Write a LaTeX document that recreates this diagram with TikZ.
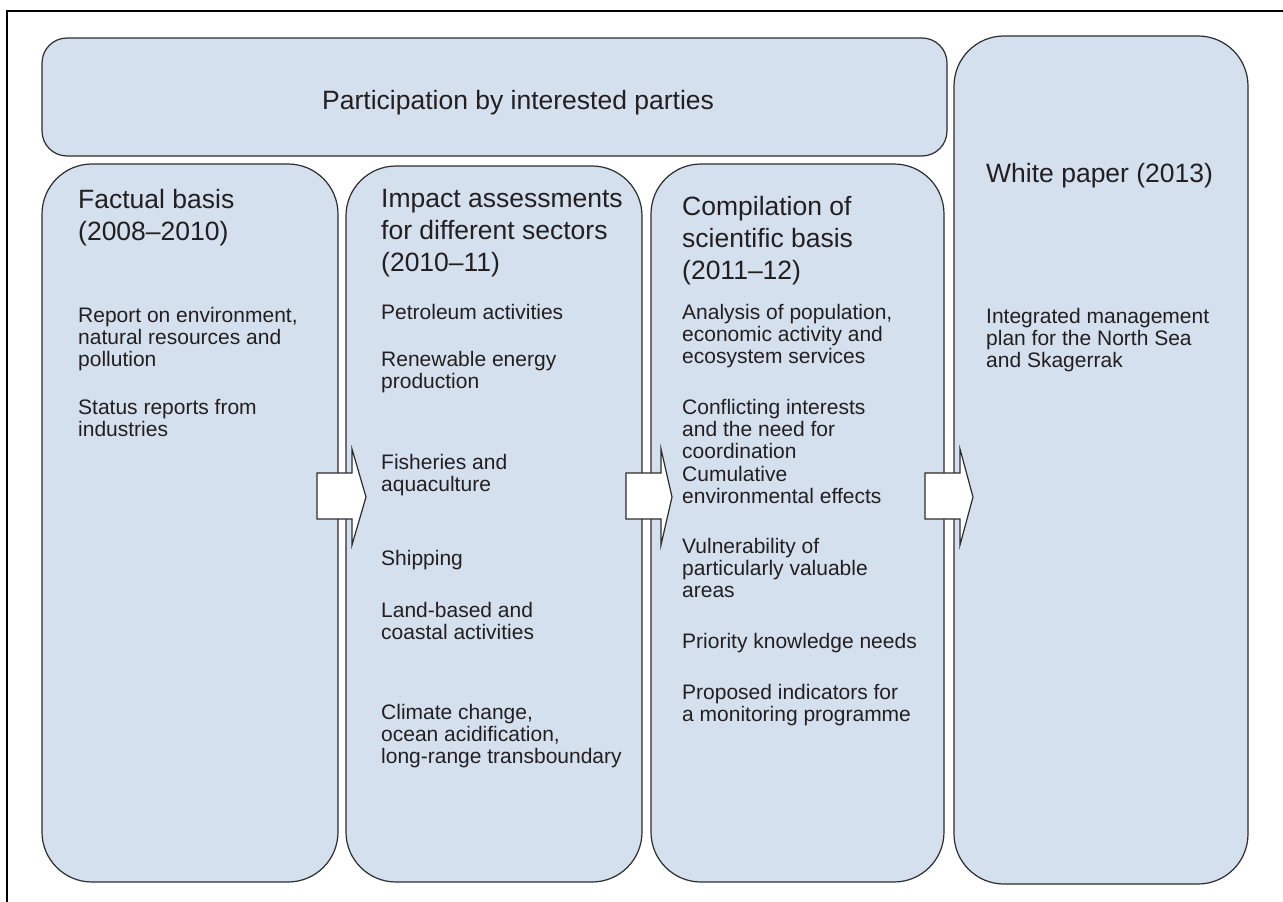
\documentclass[tikz,border=0pt]{standalone}
\usepackage{fontspec}
\setmainfont{Liberation Sans}
\definecolor{boxfill}{RGB}{213,224,238}
\definecolor{boxline}{RGB}{45,45,45}
\definecolor{txt}{RGB}{35,31,32}
\begin{document}
\begin{tikzpicture}[x=1pt,y=-1pt,
  panel/.style={draw=boxline, line width=1.2pt, fill=boxfill},
  head/.style={anchor=base west, inner sep=0pt, align=left, text=txt, font=\fontsize{26.5}{32}\selectfont},
  body/.style={anchor=base west, inner sep=0pt, align=left, text=txt, font=\fontsize{21}{22.4}\selectfont},
  blockarrow/.style={draw=boxline, line width=1.2pt, fill=white, line join=miter}]
\useasboundingbox (0,0) rectangle (1283,902);
\fill[white] (0,0) rectangle (1283,902);
% frame
\draw[line width=2.6pt] (7,902) -- (7,11) -- (1283,11);
% panels
\draw[panel, rounded corners=25pt] (42,38) rectangle (947,156);
\draw[panel, rounded corners=50pt] (42,164) rectangle (338,882);
\draw[panel, rounded corners=50pt] (346,166) rectangle (642,882);
\draw[panel, rounded corners=50pt] (651,164) rectangle (944,882);
\draw[panel, rounded corners=50pt] (954,36) rectangle (1248,884);
% block arrows
\draw[blockarrow] (317,473) -- (352,473) -- (352,449) -- (366,497) -- (352,545) -- (352,519) -- (317,519) -- cycle;
\draw[blockarrow] (626,473) -- (661,473) -- (661,449) -- (672,497) -- (661,545) -- (661,519) -- (626,519) -- cycle;
\draw[blockarrow] (925,473) -- (960,473) -- (960,449) -- (973,497) -- (960,545) -- (960,519) -- (925,519) -- cycle;
% title
\node[head] (title) at (322,109) {Participation by interested parties};
% column 1 (multi-line nodes anchored at the baseline of their last line)
\node[head] (h1) at (78,240) {Factual basis\\(2008–2010)};
\node[body] (t11) at (78,366.8) {Report on environment,\\natural resources and\\pollution};
\node[body] (t12) at (78,436.4) {Status reports from\\industries};
% column 2
\node[head] (h2) at (381,271) {Impact assessments\\for different sectors\\(2010–11)};
\node[body] (t21) at (381,319) {Petroleum activities};
\node[body] (t22) at (381,388.4) {Renewable energy\\production};
\node[body] (t23) at (381,491.4) {Fisheries and\\aquaculture};
\node[body] (t24) at (381,565) {Shipping};
\node[body] (t25) at (381,639.4) {Land-based and\\coastal activities};
\node[body] (t26) at (381,763.8) {Climate change,\\ocean acidification,\\long-range transboundary};
% column 3
\node[head] (h3) at (682,279) {Compilation of\\scientific basis\\(2011–12)};
\node[body] (t31) at (682,363.8) {Analysis of population,\\economic activity and\\ecosystem services};
\node[body] (t32) at (682,458.8) {Conflicting interests\\and the need for\\coordination};
\node[body] (t33) at (682,503.4) {Cumulative\\environmental effects};
\node[body] (t34) at (682,597.8) {Vulnerability of\\particularly valuable\\areas};
\node[body] (t35) at (682,648) {Priority knowledge needs};
\node[body] (t36) at (682,721.4) {Proposed indicators for\\a monitoring programme};
% column 4
\node[head] (h4) at (986,182) {White paper (2013)};
\node[body] (t41) at (986,367.8) {Integrated management\\plan for the North Sea\\and Skagerrak};
\end{tikzpicture}
\end{document}
